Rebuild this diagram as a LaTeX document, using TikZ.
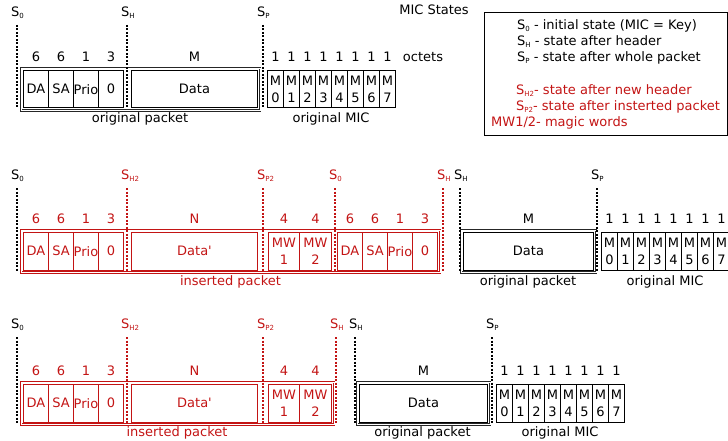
\documentclass[tikz,border=0pt]{standalone}
\usepackage{fontspec}
\setmainfont{DejaVu Sans}
\usetikzlibrary{positioning}
\definecolor{ired}{RGB}{195,20,20}
\newcommand{\ssub}[1]{\raisebox{-2pt}{\fontsize{7}{7}\selectfont#1}}
% header cells: name, x, y
\newcommand{\header}[3]{%
  \foreach \t/\n [count=\i] in {DA/6,SA/6,Prio/1,0/3}
    {\node[cell,minimum width=25pt] (#1-\i) at ({#2+25*(\i-1)},#3) {\t};
     \node[num] (#1-n\i) at ([yshift=8.5pt]#1-\i.north) {\n};}}
% MIC cells: name, x, y
\newcommand{\mic}[3]{%
  \foreach \i in {0,...,7}
    {\node[cell,minimum width=16pt] (#1-\i) at ({#2+16*\i},#3) {M\\[0.5pt]\i};
     \node[num] (#1-n\i) at ([yshift=8.5pt]#1-\i.north) {1};}}
% state line: [colour], name, x, top, bottom, subscript
\newcommand{\state}[6][black]{%
  \coordinate (#2-t) at (#3,#4);
  \coordinate (#2-b) at (#3,#5);
  \draw[stline,#1] (#2-t) -- (#2-b);
  \node[slab,#1] (#2) at ([xshift=-6pt,yshift=8.4pt]#2-t) {S\ssub{#6}};}

\begin{document}
\begin{tikzpicture}[x=1pt,y=-1pt,font=\fontsize{13}{16}\selectfont,
  cell/.style={draw,line width=1pt,anchor=north west,inner sep=0pt,minimum height=37.5pt,align=center},
  num/.style={anchor=base,inner sep=0pt},
  frame/.style={double,double distance=0.9pt,line width=0.6pt},
  stline/.style={line width=2pt,dash pattern=on 2pt off 1.5pt},
  slab/.style={anchor=base west,inner sep=0pt},
  glab/.style={anchor=base,inner sep=0pt}]
\useasboundingbox (0,0) rectangle (728,441);

% legend
\draw (484,12) rectangle (727,135);
\node[slab] (k1) at (517,29.6) {S\ssub{0} - initial state (MIC = Key)};
\node[slab] (k2) at (517,45.6) {S\ssub{H} - state after header};
\node[slab] (k3) at (517,61.6) {S\ssub{P} - state after whole packet};
\node[slab,ired] (k4) at (516,94.6) {S\ssub{H2}- state after new header};
\node[slab,ired] (k5) at (516,110.6) {S\ssub{P2}- state after insterted packet};
\node[slab,ired] (k6) at (491,126.6) {MW1/2- magic words};
\node[num] (mst) at (434,14.6) {MIC States};
\node[num] (oct) at (423,61.5) {octets};

% row 1: original packet
\header{h1}{23}{70}
\node[cell,minimum width=126pt] (d1) at (131,70) {Data};
\node[num] (d1-n) at ([yshift=8.5pt]d1.north) {M};
\draw[frame,black!85] ([shift={(-2pt,2pt)}]h1-1.north west) rectangle ([shift={(2pt,-2pt)}]d1.south east);
\mic{m1}{267}{70}
\node[glab] (p1) at (140,122.5) {original packet};
\node[glab] (c1) at (331,122.5) {original MIC};
\state{s0a}{17}{25}{109}{0}
\state{sha}{127}{25}{109}{H}
\state{spa}{263}{25}{109}{P}

% row 2: inserted packet in front
\begin{scope}[ired]
\header{h2}{23}{232}
\node[cell,minimum width=126pt] (d2) at (131,232) {Data\textquotesingle};
\node[num] (d2-n) at ([yshift=8.5pt]d2.north) {N};
\node[cell,minimum width=31pt] (w2-1) at (268,232) {MW\\[0.5pt]1};
\node[cell,minimum width=32pt] (w2-2) at (299,232) {MW\\[0.5pt]2};
\node[num] (w2-n1) at ([yshift=8.5pt]w2-1.north) {4};
\node[num] (w2-n2) at ([yshift=8.5pt]w2-2.north) {4};
\header{g2}{337}{232}
\draw[frame] ([shift={(-2pt,2pt)}]h2-1.north west) rectangle ([shift={(2pt,-2pt)}]g2-4.south east);
\node[glab] (p2) at (230.5,285.5) {inserted packet};
\end{scope}
\node[cell,minimum width=130pt] (e2) at (463,232) {Data};
\node[num] (e2-n) at ([yshift=8.5pt]e2.north) {M};
\draw[frame,black!85] ([shift={(-2pt,2pt)}]e2.north west) rectangle ([shift={(2pt,-2pt)}]e2.south east);
\mic{m2}{601}{232}
\node[glab] (q2) at (528,285.5) {original packet};
\node[glab] (c2) at (665,285.5) {original MIC};
\state{s0b}{17}{188}{272}{0}
\state[ired]{sh2b}{127}{188}{272}{H2}
\state[ired]{sp2b}{263}{188}{272}{P2}
\state[ired]{s0c}{335}{188}{272}{0}
\state[ired]{shc}{443}{188}{272}{H}
\state{shd}{460}{188}{272}{H}
\state{spd}{597}{188}{272}{P}

% row 3: inserted packet, then original data
\begin{scope}[ired]
\header{h3}{23}{384}
\node[cell,minimum width=126pt] (d3) at (131,384) {Data\textquotesingle};
\node[num] (d3-n) at ([yshift=8.5pt]d3.north) {N};
\node[cell,minimum width=31pt] (w3-1) at (268,384) {MW\\[0.5pt]1};
\node[cell,minimum width=32pt] (w3-2) at (299,384) {MW\\[0.5pt]2};
\node[num] (w3-n1) at ([yshift=8.5pt]w3-1.north) {4};
\node[num] (w3-n2) at ([yshift=8.5pt]w3-2.north) {4};
\draw[frame] ([shift={(-2pt,2pt)}]h3-1.north west) rectangle ([shift={(2pt,-2pt)}]w3-2.south east);
\node[glab] (p3) at (177,436.5) {inserted packet};
\end{scope}
\node[cell,minimum width=128pt] (e3) at (359,384) {Data};
\node[num] (e3-n) at ([yshift=8.5pt]e3.north) {M};
\draw[frame,black!85] ([shift={(-2pt,2pt)}]e3.north west) rectangle ([shift={(2pt,-2pt)}]e3.south east);
\mic{m3}{496}{384}
\node[glab] (q3) at (422.5,436.5) {original packet};
\node[glab] (c3) at (560,436.5) {original MIC};
\state{s0e}{17}{337}{423}{0}
\state[ired]{sh2e}{127}{337}{423}{H2}
\state[ired]{sp2e}{263}{337}{423}{P2}
\state[ired]{shf}{336}{337}{423}{H}
\state{shg}{355}{337}{423}{H}
\state{spg}{492}{337}{423}{P}
\end{tikzpicture}
\end{document}
